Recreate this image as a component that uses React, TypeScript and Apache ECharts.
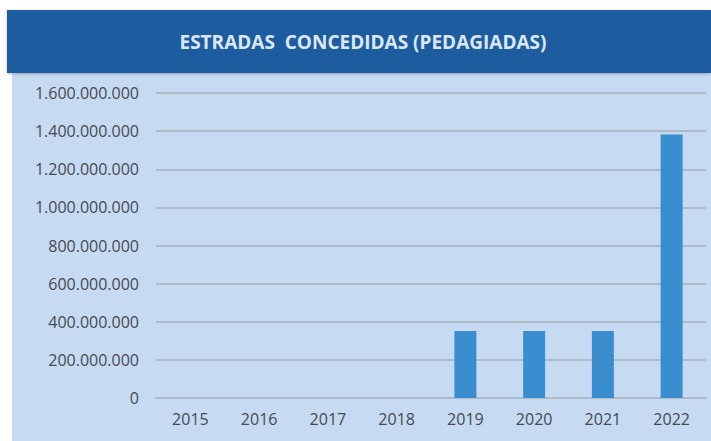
import React, { useEffect, useRef } from "react";
import * as echarts from "echarts";

const categories = ["2015", "2016", "2017", "2018", "2019", "2020", "2021", "2022"];
const values = [0, 0, 0, 0, 352000000, 352000000, 352000000, 1382000000];
const titleText = "ESTRADAS  CONCEDIDAS (PEDAGIADAS)";

const fmt = (v: number) => String(Math.round(v)).replace(/\B(?=(\d{3})+(?!\d))/g, ".");

export default function App() {
  const ref = useRef<HTMLDivElement>(null);
  useEffect(() => {
    const chart = echarts.init(ref.current!, null, { renderer: "svg" });
    chart.setOption({
      animation: false,
      backgroundColor: "#ffffff",
      graphic: [
        { type: "rect", z: -10, shape: { x: 12, y: 73, width: 699, height: 368 }, style: { fill: "#c6daf1" } },
        { type: "rect", z: -9, shape: { x: 7, y: 10, width: 704, height: 63 }, style: { fill: "#1f5b9f", shadowBlur: 3, shadowColor: "rgba(0,0,0,0.25)", shadowOffsetY: 1 } },
        {
          type: "text",
          x: 363,
          y: 42,
          style: {
            text: titleText,
            fill: "#dce7f4",
            font: "bold 19px 'Open Sans', sans-serif",
            align: "center",
            verticalAlign: "middle",
          },
        },
      ],
      grid: { left: 156, right: 5, top: 93, bottom: 43 },
      xAxis: {
        type: "category",
        data: categories,
        axisTick: { show: false },
        axisLine: { show: true, lineStyle: { color: "#adbac8", width: 2 } },
        axisLabel: { color: "#454a52", fontSize: 16, fontFamily: "'Open Sans', sans-serif", margin: 13 },
      },
      yAxis: {
        type: "value",
        min: 0,
        max: 1600000000,
        interval: 200000000,
        axisLine: { show: false },
        axisTick: { show: false },
        splitLine: { lineStyle: { color: "#adbac8", width: 2 } },
        axisLabel: { color: "#454a52", fontSize: 16, fontFamily: "'Open Sans', sans-serif", margin: 17, formatter: fmt },
      },
      series: [
        {
          type: "bar",
          data: values,
          barWidth: 22,
          itemStyle: { color: "#3a8dce" },
        },
      ],
    });
    return () => chart.dispose();
  }, []);
  return <div ref={ref} style={{ position: "fixed", left: 0, top: 0, width: 711, height: 441 }} />;
}
